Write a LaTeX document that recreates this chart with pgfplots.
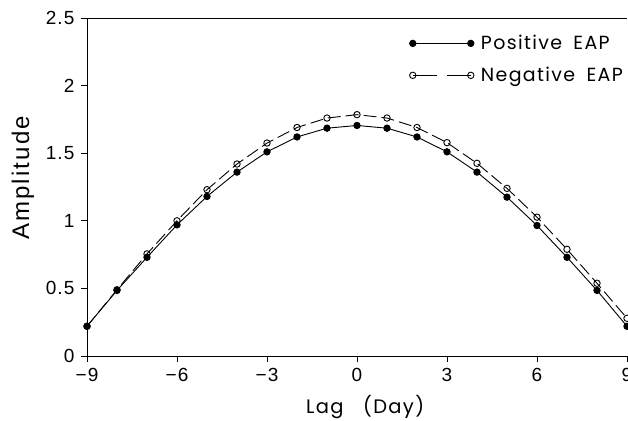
\documentclass[border=0pt]{standalone}
\usepackage{pgfplots}
\pgfplotsset{compat=1.18}
\usepackage{fontspec}
\setmainfont{Liberation Sans}
\newfontfamily\geo{Poppins}[LetterSpace=7]
\newfontfamily\lab{Liberation Sans}[LetterSpace=9]
\newfontfamily\tck{Liberation Sans}[LetterSpace=6]

\pgfplotsset{
  legsolid/.style={legend image code/.code={\draw[##1, mark repeat=1] plot coordinates {(0pt,0pt) (58pt,0pt)};}},
  legdash/.style={legend image code/.code={\draw[##1, dash pattern=on 24pt off 10pt on 24pt off 0pt, mark repeat=1] plot coordinates {(0pt,0pt) (58pt,0pt)};}},
}

\pgfplotstableread{
x pos neg
-9 0.220 0.220
-8 0.485 0.490
-7 0.730 0.755
-6 0.970 1.000
-5 1.180 1.230
-4 1.360 1.420
-3 1.510 1.575
-2 1.620 1.690
-1 1.685 1.760
0 1.705 1.785
1 1.685 1.760
2 1.620 1.690
3 1.510 1.578
4 1.360 1.425
5 1.175 1.240
6 0.965 1.027
7 0.730 0.789
8 0.485 0.538
9 0.220 0.279
}\datatable

\begin{document}
\begin{tikzpicture}
\begin{axis}[
  scale only axis, width=540pt, height=338pt,
  xmin=-9, xmax=9, ymin=0, ymax=2.5,
  axis x line*=box, axis y line*=left,
  axis line style={line width=0.9pt},
  xtick={-9,-6,-3,0,3,6,9},
  xticklabels={−9,−6,−3,0,3,6,9},
  ytick={0,0.5,1,1.5,2,2.5},
  yticklabels={0,0.5,1,1.5,2,2.5},
  xtick pos=bottom, ytick pos=left,
  tick align=outside,
  major tick length=6pt,
  tick style={line width=0.9pt, black},
  tick label style={font=\tck\fontsize{19}{19}\selectfont},
  xticklabel style={yshift=-3pt},
  yticklabel style={xshift=-3pt},
  clip=false,
  ylabel={Amplitude},
  every axis y label/.style={at={(axis description cs:-0.1185,0.527)}, rotate=90, anchor=center, font=\lab\fontsize{24}{24}\selectfont},
  xlabel={Lag\hspace{1em}(Day)},
  every axis x label/.style={at={(axis description cs:0.515,-0.171)}, anchor=base, font=\geo\fontsize{19.5}{19.5}\selectfont},
  legend style={at={(axis description cs:0.597,0.955)}, anchor=north west, draw=none, fill=none,
    font=\geo\fontsize{19}{19}\selectfont, row sep=12pt, inner sep=0pt,
    /tikz/every odd column/.append style={column sep=5pt}},
  legend cell align=left,
]
\addplot[black, line width=0.9pt, mark=*, mark size=3.2pt, mark options={solid, fill=black}, legsolid]
  table[x=x, y=pos] {\datatable};
\addlegendentry{Positive\hspace{0.6em}EAP}
\addplot[black, line width=0.9pt, dash pattern=on 13pt off 5pt, mark=o, mark size=3.2pt, mark options={solid, fill=white}, legdash]
  table[x=x, y=neg] {\datatable};
\addlegendentry{Negative\hspace{0.6em}EAP}
\coordinate (SW) at (rel axis cs:0,0);
\coordinate (NE) at (rel axis cs:1,1);
\end{axis}
\pgfresetboundingbox
\path[use as bounding box] ([xshift=-87pt,yshift=-65pt]SW) rectangle ([xshift=1pt,yshift=18pt]NE);
\end{tikzpicture}
\end{document}
